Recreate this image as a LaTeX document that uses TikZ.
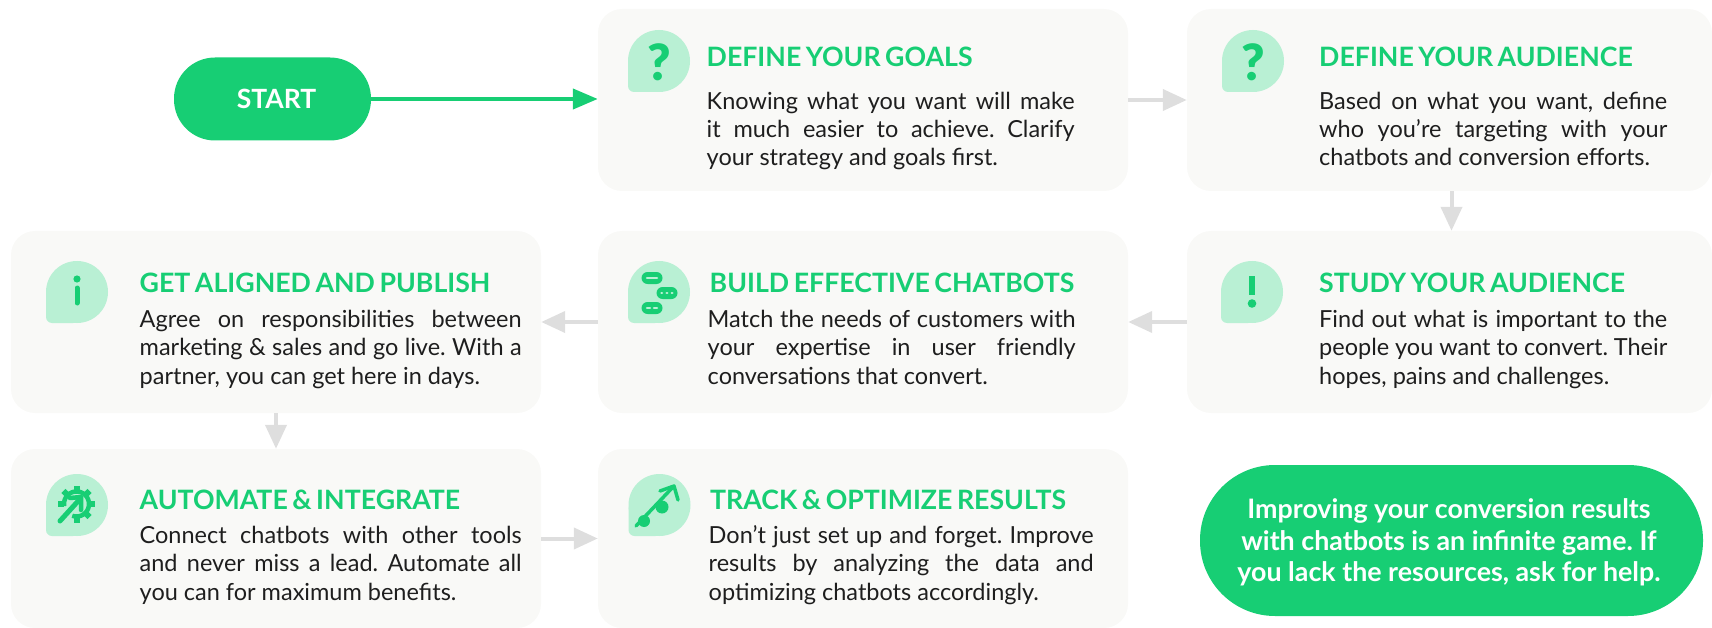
\documentclass[tikz,border=0pt]{standalone}
\usepackage{fontspec}
\setmainfont{Lato}
\newfontfamily\glyphfont{Lato Black}
\newfontfamily\headfamily{Lato}[WordSpace=0.7]
\usetikzlibrary{arrows.meta}
\definecolor{brand}{HTML}{17CE74}
\definecolor{blob}{HTML}{B9F0D4}
\definecolor{cardbg}{HTML}{F9F9F7}
\definecolor{flow}{HTML}{DEDEDE}
\definecolor{ink}{HTML}{1E1E1E}
\newcommand{\jl}[2]{\makebox[#1pt][s]{#2}}
\newcommand{\blobat}[2]{%
  \fill[blob] (#1,#2) circle[radius=31];
  \fill[blob,rounded corners=6pt] (#1-31,#2-2) rectangle (#1+2,#2+31);
}
\tikzset{
  card/.style={fill=cardbg,rounded corners=24pt,inner sep=0pt,minimum height=182pt,minimum width=530pt},
  pill/.style={fill=brand,inner sep=0pt},
  pilltext/.style={text=white,align=center,inner sep=0pt},
  head/.style={anchor=base west,inner sep=0pt,text=brand,font=\headfamily\fontsize{26.7}{30}\selectfont\bfseries},
  body/.style={anchor=base west,inner sep=0pt,text=ink,align=left,font=\fontsize{23.5}{28.3}\selectfont\frenchspacing},
  flowarrow/.style={draw=flow,line width=4pt,-{Triangle[length=24pt,width=21pt]}},
  glyph/.style={text=brand,inner sep=0pt,font=\glyphfont\fontsize{50}{50}\selectfont},
  ic/.style={draw=brand,line cap=round,line join=round},
  mini/.style={fill=brand,rounded corners=6pt},
  minimark/.style={draw=blob,line width=2.6pt,line cap=round}
}
\begin{document}
\begin{tikzpicture}[x=1pt,y=-1pt]
\useasboundingbox (0,0) rectangle (1712,628);
% cards
\node[card] (goals) at (863,100) {};
\node[card,minimum width=525pt] (audience) at (1449.5,100) {};
\node[card,minimum width=525pt] (study) at (1449.5,322) {};
\node[card] (build) at (863,322) {};
\node[card] (publish) at (276,322) {};
\node[card,minimum height=179pt] (automate) at (276,538.5) {};
\node[card,minimum height=179pt] (track) at (863,538.5) {};
% pills
\node[pill,rounded corners=41pt,minimum width=197pt,minimum height=83pt] (start) at (272.5,99) {};
\node[pilltext,font=\fontsize{26.5}{30}\selectfont\bfseries] (starttext) at (276.5,98.5) {START};
\node[pill,rounded corners=75pt,minimum width=503pt,minimum height=151pt] (help) at (1451.5,540.5) {};
\node[pilltext,font=\fontsize{26.8}{31.7}\selectfont\bfseries\frenchspacing] (helptext) at (1449,542.5) {Improving your conversion results\\with chatbots is an infinite game. If\\you lack the resources, ask for help.};
% connectors
\draw[draw=brand,line width=4pt,-{Triangle[length=25pt,width=20pt]}] (start.east) -- (start.east -| goals.west);
\draw[flowarrow] (goals.east) -- (audience.west);
\draw[flowarrow] ([xshift=2pt]audience.south) -- ([xshift=2pt]study.north);
\draw[flowarrow] (study.west) -- (build.east);
\draw[flowarrow] (build.west) -- (publish.east);
\draw[flowarrow] (publish.south) -- (automate.north);
\draw[flowarrow] (automate.east) -- (track.west);
% texts
\node[head] (h1) at (706.5,66.5) {DEFINE YOUR GOALS};
\node[body] (b1) at (706.5,166) {\jl{368}{Knowing what you want will make}\\\jl{368}{it much easier to achieve. Clarify}\\your strategy and goals first.};
\node[head] (h2) at (1319,66.5) {DEFINE YOUR AUDIENCE};
\node[body] (b2) at (1319,166) {\jl{348}{Based on what you want, define}\\\jl{348}{who you’re targeting with your}\\chatbots and conversion efforts.};
\node[head] (h3) at (1319,292.5) {STUDY YOUR AUDIENCE};
\node[body] (b3) at (1319,384) {\jl{348}{Find out what is important to the}\\\jl{348}{people you want to convert. Their}\\hopes, pains and challenges.};
\node[head] (h4) at (709.5,292.5) {BUILD EFFECTIVE CHATBOTS};
\node[body] (b4) at (707.5,384) {\jl{368}{Match the needs of customers with}\\\jl{368}{your expertise in user friendly}\\conversations that convert.};
\node[head] (h5) at (139.5,292.5) {GET ALIGNED AND PUBLISH};
\node[body] (b5) at (139.5,384) {\jl{382}{Agree on responsibilities between}\\\jl{382}{marketing \& sales and go live. With a}\\partner, you can get here in days.};
\node[head] (h6) at (139.5,509.5) {AUTOMATE \& INTEGRATE};
\node[body] (b6) at (139.5,600) {\jl{382}{Connect chatbots with other tools}\\\jl{382}{and never miss a lead. Automate all}\\you can for maximum benefits.};
\node[head] (h7) at (710,509.5) {TRACK \& OPTIMIZE RESULTS};
\node[body] (b7) at (708.5,600) {\jl{385}{Don’t just set up and forget. Improve}\\\jl{385}{results by analyzing the data and}\\optimizing chatbots accordingly.};
% icons
\blobat{659}{61}
\node[glyph] (q1) at (659,62.5) {?};
\blobat{1253}{61}
\node[glyph] (q2) at (1253,62.5) {?};
\blobat{1252}{292}
\draw[ic,line width=6pt,line cap=butt] (1252,276) -- (1252,295);
\fill[brand] (1252,303.5) circle[radius=4.3];
\blobat{659}{292}
\fill[mini] (641.5,272) rectangle (662.5,284);
\fill[mini] (656.5,287) rectangle (677.5,299);
\fill[mini] (641.5,302) rectangle (662.5,314);
\draw[minimark] (647,278) -- (657,278);
\draw[minimark] (661.5,293) -- (662,293) (666.7,293) -- (667.2,293) (671.8,293) -- (672.3,293);
\draw[minimark] (647,308) -- (650,308) (654,308) -- (657,308);
\blobat{77}{292}
\fill[brand] (77,279) circle[radius=3.6];
\draw[ic,line width=5pt,line cap=round] (77,288) -- (77,303);
\blobat{77}{505}
\begin{scope}[shift={(76.5,504)}]
  \draw[ic,line width=4.5pt,line cap=butt] plot[domain=-190:110,samples=40,smooth] ({12.5*cos(\x)},{12.5*sin(\x)});
  \foreach \a in {0,-45,-90,-135,-180,90,45}
    \draw[ic,line width=6pt,line cap=butt] (\a:13) -- (\a:18.5);
\end{scope}
\draw[draw=blob,line width=9pt] (59,522) -- (80,499);
\draw[ic,line width=5pt] (60,521) -- (80,499);
\draw[ic,line width=4.5pt] (70,498) -- (81,497) -- (81,510);
\blobat{659.5}{505}
\draw[ic,line width=3.5pt] (636,526) -- (673,487);
\draw[ic,line width=3.5pt] (660,491) -- (674,486) -- (678,500);
\fill[brand] (644,521) circle[radius=6];
\fill[brand] (662,507) circle[radius=6.5];
\end{tikzpicture}
\end{document}
